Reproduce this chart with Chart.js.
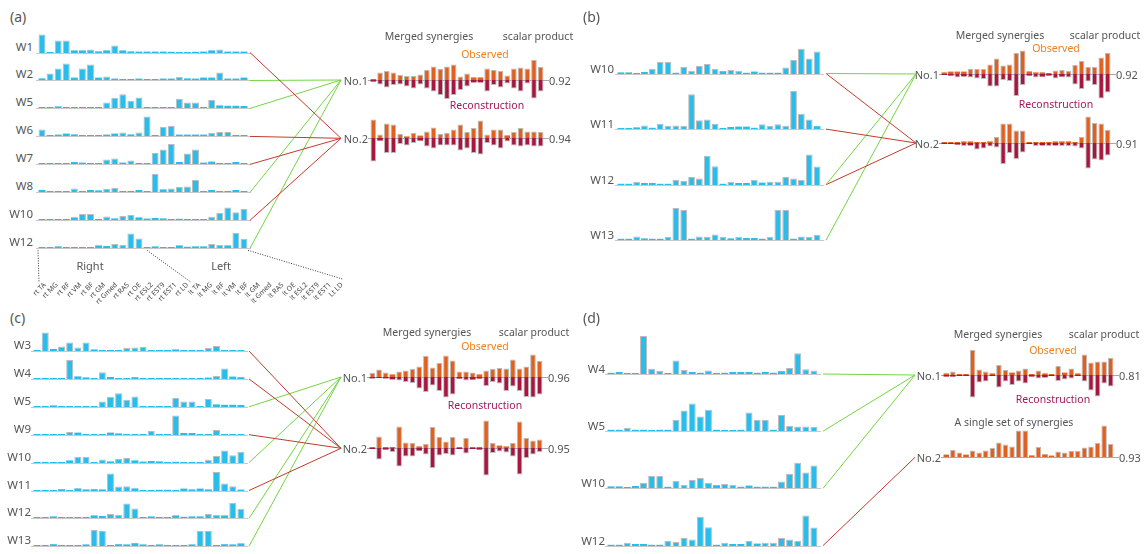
<!DOCTYPE html>
<html><head><meta charset="utf-8">
<script src="https://cdn.jsdelivr.net/npm/chart.js@4.4.1/dist/chart.umd.min.js"></script>
<style>
html,body{margin:0;padding:0}
body{width:1146px;height:554px;background:#fff;position:relative;overflow:hidden;font-family:'Noto Sans',sans-serif;color:#555}
canvas{position:absolute}
.t{position:absolute;white-space:nowrap;line-height:1}
</style></head><body>
<script>
// ---------------- DATA ----------------
const MUSCLES = ['rt TA','rt MG','rt RF','rt VM','rt BF','rt GM','rt Gmed','rt RAS','rt OE','rt ESL2','rt EST9','rt EST1','rt LD',
                 'lt TA','lt MG','lt RF','lt VM','lt BF','lt GM','lt Gmed','lt RAS','lt OE','lt ESL2','lt EST9','lt EST1','Lt LD'];

const W1  = [0.93,0.03,0.63,0.63,0.13,0.13,0.17,0.08,0.13,0.37,0.13,0.08,0.07,0.07,0.07,0.07,0.06,0.05,0.05,0.06,0.07,0.13,0.18,0.07,0.07,0.07];
const W2  = [0.08,0.33,0.57,0.83,0.12,0.57,0.78,0.12,0.17,0.07,0.03,0.02,0.07,0.03,0.03,0.07,0.07,0.15,0.08,0.07,0.12,0.12,0.38,0.07,0.07,0.12];
const W3  = [0.01,0.93,0.10,0.22,0.43,0.18,0.43,0.08,0.05,0.05,0.03,0.15,0.18,0.20,0.05,0.03,0.02,0.08,0.05,0.05,0.05,0.15,0.25,0.03,0.05,0.05];
const W4  = [0.03,0.05,0.00,0.01,0.95,0.13,0.08,0.00,0.34,0.10,0.05,0.03,0.09,0.02,0.03,0.05,0.05,0.05,0.03,0.05,0.03,0.07,0.15,0.52,0.12,0.09];
const W5  = [0.03,0.03,0.08,0.03,0.03,0.01,0.03,0.03,0.28,0.51,0.69,0.36,0.53,0.03,0.01,0.01,0.03,0.46,0.28,0.28,0.03,0.40,0.13,0.11,0.11,0.10];
const W6  = [0.33,0.03,0.07,0.12,0.08,0.03,0.03,0.05,0.07,0.12,0.17,0.08,0.17,0.97,0.03,0.45,0.50,0.07,0.07,0.07,0.07,0.15,0.20,0.20,0.03,0.03];
const W7  = [0.02,0.03,0.05,0.05,0.10,0.07,0.03,0.03,0.22,0.27,0.07,0.17,0.02,0.05,0.55,0.72,1.00,0.10,0.52,0.72,0.07,0.12,0.05,0.02,0.10,0.02];
const W8  = [0.10,0.03,0.03,0.02,0.17,0.03,0.10,0.08,0.15,0.20,0.03,0.03,0.10,0.03,0.90,0.13,0.18,0.25,0.28,0.60,0.03,0.10,0.05,0.03,0.10,0.05];
const W9  = [0.03,0.03,0.03,0.03,0.15,0.12,0.03,0.03,0.03,0.12,0.08,0.03,0.02,0.02,0.20,0.02,0.03,0.98,0.10,0.10,0.03,0.03,0.25,0.05,0.03,0.05];
const W10 = [0.04,0.04,0.01,0.05,0.13,0.30,0.30,0.03,0.18,0.08,0.20,0.25,0.13,0.07,0.10,0.08,0.03,0.06,0.03,0.03,0.03,0.16,0.35,0.63,0.39,0.56];
const W11 = [0.02,0.02,0.04,0.09,0.03,0.13,0.08,0.09,0.08,0.87,0.22,0.24,0.13,0.02,0.05,0.06,0.06,0.03,0.12,0.08,0.12,0.08,0.95,0.38,0.24,0.07];
const W12 = [0.03,0.03,0.08,0.05,0.05,0.03,0.03,0.13,0.10,0.20,0.16,0.73,0.47,0.03,0.08,0.05,0.05,0.13,0.06,0.08,0.08,0.20,0.16,0.13,0.76,0.46];
const W13 = [0.03,0.03,0.09,0.04,0.03,0.03,0.08,0.80,0.75,0.03,0.09,0.08,0.14,0.08,0.04,0.08,0.05,0.05,0.03,0.08,0.75,0.75,0.03,0.09,0.08,0.13];
const SYN = {W1,W2,W3,W4,W5,W6,W7,W8,W9,W10,W11,W12,W13};

// panel (a)
const A_ROWS  = ['W1','W2','W5','W6','W7','W8','W10','W12'];
const A_LINKS = [[2],[1],[1],[2],[2],[1],[2],[1]];
const A_OBS1 = [0.03,0.38,0.45,0.37,0.25,0.20,0.20,0.28,0.50,0.67,0.55,0.67,0.78,0.17,0.33,0.13,0.13,0.58,0.50,0.45,0.22,0.58,0.63,0.58,1.00,0.65];
const A_REC1 = [0.08,0.22,0.38,0.25,0.22,0.33,0.42,0.22,0.42,0.58,0.75,0.95,0.75,0.50,0.33,0.12,0.12,0.58,0.25,0.38,0.17,0.42,0.58,0.17,0.92,0.58];
const A_OBS2 = [0.92,0.17,0.72,0.67,0.20,0.08,0.25,0.12,0.33,0.53,0.20,0.25,0.42,0.67,0.30,0.50,0.87,0.17,0.42,0.42,0.13,0.30,0.50,0.33,0.33,0.30];
const A_REC2 = [1.17,0.13,0.75,0.75,0.30,0.37,0.25,0.13,0.42,0.53,0.37,0.37,0.37,0.63,0.53,0.75,0.83,0.25,0.37,0.53,0.17,0.37,0.42,0.37,0.42,0.42];
const A_SCORES = ['0.92','0.94'];

// panel (b)
const B_ROWS  = ['W10','W11','W12','W13'];
const B_LINKS = [[1,2],[2],[1,2],[1]];
const B_OBS1 = [0.08,0.12,0.12,0.12,0.25,0.25,0.25,0.48,0.78,0.42,0.48,1.05,1.17,0.13,0.08,0.08,0.03,0.18,0.20,0.15,0.45,0.65,0.35,0.35,0.82,1.05];
const B_REC1 = [0.05,0.08,0.17,0.12,0.17,0.22,0.25,0.63,0.63,0.30,0.35,1.10,0.55,0.08,0.17,0.13,0.08,0.23,0.13,0.17,0.52,0.75,0.38,0.55,1.22,0.92];
const B_OBS2 = [0.05,0.05,0.05,0.08,0.08,0.05,0.05,0.08,0.30,0.97,0.97,0.62,0.62,0.05,0.05,0.05,0.05,0.08,0.08,0.08,0.05,0.30,1.32,1.00,0.97,0.65];
const B_REC2 = [0.03,0.05,0.08,0.15,0.12,0.33,0.28,0.17,0.22,1.05,0.50,0.80,0.47,0.05,0.15,0.12,0.15,0.12,0.15,0.15,0.18,0.28,1.28,0.83,0.88,0.62];
const B_SCORES = ['0.92','0.91'];

// panel (c)
const C_ROWS  = ['W3','W4','W5','W9','W10','W11','W12','W13'];
const C_LINKS = [[2],[2],[1],[2],[1],[2],[1],[1]];
const C_OBS1 = [0.20,0.38,0.22,0.13,0.28,0.33,0.40,0.53,1.05,0.47,0.70,1.08,0.83,0.28,0.28,0.22,0.13,0.33,0.40,0.45,0.42,0.88,0.43,0.53,1.13,0.80];
const C_REC1 = [0.07,0.05,0.07,0.12,0.17,0.25,0.30,0.58,0.75,0.42,0.70,1.03,0.87,0.08,0.17,0.13,0.08,0.45,0.25,0.33,0.70,0.47,0.70,1.00,1.03,0.87];
const C_OBS2 = [0.03,0.58,0.03,0.03,1.08,0.28,0.25,0.08,0.20,1.05,0.55,0.32,0.55,0.03,0.50,0.05,0.03,1.37,0.25,0.12,0.08,0.25,1.33,0.50,0.37,0.42];
const C_REC2 = [0.03,0.58,0.08,0.20,0.92,0.42,0.42,0.13,0.33,1.00,0.38,0.30,0.38,0.05,0.28,0.05,0.08,1.37,0.25,0.17,0.22,0.42,1.33,0.50,0.33,0.20];
const C_SCORES = ['0.96','0.95'];

// panel (d)
const D_ROWS  = ['W4','W5','W10','W12'];
const D_LINKS = [[1],[1],[1],[2]];
const D_OBS1 = [0.08,0.17,0.05,0.05,1.25,0.28,0.17,0.08,0.50,0.25,0.12,0.22,0.33,0.05,0.22,0.08,0.05,0.45,0.12,0.33,0.08,1.03,0.62,0.68,0.67,0.85];
const D_REC1 = [0.08,0.08,0.05,0.05,1.12,0.38,0.33,0.05,0.63,0.33,0.50,0.33,0.42,0.08,0.17,0.12,0.05,0.30,0.22,0.17,0.05,0.33,0.78,1.08,0.42,0.58];
const D_SINGLE = [0.12,0.35,0.22,0.12,0.33,0.23,0.32,0.45,0.73,0.62,0.53,1.33,1.33,0.08,0.50,0.13,0.07,0.27,0.23,0.30,0.30,0.47,0.52,0.70,1.58,0.65];
const D_SCORES = ['0.81','0.93'];

// ---------------- STYLE / LAYOUT ----------------
const BLUE = '#29bdeb', ORANGE = '#df601f', CRIMSON = '#a6173f', EDGE = 'rgba(175,175,175,0.85)';
const GREEN = '#74d443', RED = '#c13a2c';
const MS = 20; // merged px per unit

const PANELS = [
  {tag:'(a)', tx:10, ty:17, rows:A_ROWS, links:A_LINKS, synX:38, synW:210, y0:52.5, dy:27.97, scale:20, labR:33, labDy:6,
   lx0:250, lx1:341, mx:370, mw:174, my:[80,138.3], obs:[A_OBS1,A_OBS2], rec:[A_REC1,A_REC2], scores:A_SCORES,
   hm:429, hs:538, hy:35.5, ox:485, oy:54, rx:487, ry:105},
  {tag:'(b)', tx:583, ty:17, rows:B_ROWS, links:B_LINKS, synX:617, synW:204, y0:73.5, dy:55.6, scale:40, labR:614, labDy:5,
   lx0:826, lx1:916, mx:941, mw:170, my:[74,143], obs:[B_OBS1,B_OBS2], rec:[B_REC1,B_REC2], scores:B_SCORES,
   hm:1000, hs:1105, hy:35, ox:1056, oy:48, rx:1056, ry:103.5},
  {tag:'(c)', tx:10, ty:318, rows:C_ROWS, links:C_LINKS, synX:33, synW:212, y0:351, dy:27.9, scale:20, labR:31, labDy:6,
   lx0:249, lx1:341, mx:369, mw:174, my:[377,448.3], obs:[C_OBS1,C_OBS2], rec:[C_REC1,C_REC2], scores:C_SCORES,
   hm:427, hs:534, hy:332, ox:485, oy:345.5, rx:485, ry:405},
  {tag:'(d)', tx:583, ty:318, rows:D_ROWS, links:D_LINKS, synX:607, synW:211, y0:374, dy:57.2, scale:40, labR:605, labDy:5,
   lx0:823, lx1:915, mx:943, mw:171, my:[375,457.3], obs:[D_OBS1,D_SINGLE], rec:[D_REC1,null], scores:D_SCORES,
   hm:998, hs:1104, hy:334, ox:1053, oy:349.5, rx:1053, ry:398.5, note:'A single set of synergies', nx:1014, ny:422}
];

// ---------------- HELPERS ----------------
Chart.defaults.font.family = "'Noto Sans', sans-serif";
Chart.defaults.animation = false;

const baselinePlugin = {
  id: 'baseline',
  beforeDatasetsDraw(chart, args, opts) {
    const {ctx, chartArea, scales} = chart;
    const y = Math.round(scales.y.getPixelForValue(0)) + 0.5;
    ctx.save();
    ctx.strokeStyle = opts.color; ctx.lineWidth = 1;
    ctx.beginPath();
    ctx.moveTo(chartArea.left - opts.extL, y);
    ctx.lineTo(chartArea.right + opts.extR, y);
    ctx.stroke();
    ctx.restore();
  }
};

function makeCanvas(l, t, w, h) {
  const c = document.createElement('canvas');
  w = Math.round(w); h = Math.round(h);
  c.width = w; c.height = h;
  c.style.left = Math.round(l) + 'px'; c.style.top = Math.round(t) + 'px';
  c.style.width = w + 'px'; c.style.height = h + 'px';
  document.body.appendChild(c);
  return c;
}

function txt(s, x, y, o = {}) {
  const d = document.createElement('div');
  d.className = 't'; d.textContent = s;
  d.style.fontSize = (o.size || 11) + 'px';
  d.style.color = o.color || '#555';
  if (o.weight) d.style.fontWeight = o.weight;
  d.style.left = x + 'px'; d.style.top = y + 'px';
  const tx = o.align === 'right' ? '-100%' : o.align === 'center' ? '-50%' : '0';
  d.style.transform = `translate(${tx},-50%)`;
  document.body.appendChild(d);
}

const baseOpts = (extra) => Object.assign({
  responsive: false, animation: false, devicePixelRatio: 1,
  events: [],
}, extra);

// thin outline only on bars tall enough to show their fill
const edgeFor = (pxPerUnit) => (ctx) => (Math.abs(ctx.raw || 0) * pxPerUnit >= 3 ? 1 : 0);

function synChart(values, x, baseY, w, scale) {
  const pad = 4;
  const ch = Math.round(1.05 * scale);
  const top = Math.round(baseY) - ch;
  const c = makeCanvas(x - pad, top, w + 2 * pad, ch + 2);
  new Chart(c, {
    type: 'bar',
    data: { labels: MUSCLES, datasets: [{ data: values, backgroundColor: BLUE, borderColor: EDGE, borderWidth: edgeFor(scale),
      minBarLength: 1, barPercentage: 0.86, categoryPercentage: 1 }] },
    options: baseOpts({
      layout: { padding: { left: pad, right: pad, top: 0, bottom: 2 } },
      plugins: { legend: { display: false }, tooltip: { enabled: false },
        baseline: { color: '#c9c9c9', extL: 2, extR: 3 } },
      scales: { x: { display: false }, y: { display: false, min: 0, max: ch / scale } }
    }),
    plugins: [baselinePlugin]
  });
}

function mergedChart(obs, rec, x, baseY, w) {
  const up = 1.7, down = 1.5, pad = 8;
  const top = Math.round(baseY) - up * MS;
  const c = makeCanvas(x - pad, top, w + 2 * pad, (up + down) * MS);
  const common = { borderColor: EDGE, borderWidth: edgeFor(MS), minBarLength: 1, barPercentage: 0.84, categoryPercentage: 1 };
  const ds = [Object.assign({ data: obs, backgroundColor: ORANGE }, common)];
  if (rec) ds.push(Object.assign({ data: rec.map(v => -v), backgroundColor: CRIMSON }, common));
  new Chart(c, {
    type: 'bar',
    data: { labels: MUSCLES, datasets: ds },
    options: baseOpts({
      layout: { padding: { left: pad, right: pad, top: 0, bottom: 0 } },
      plugins: { legend: { display: false }, tooltip: { enabled: false },
        baseline: { color: '#a9a9a9', extL: 2, extR: 5 } },
      scales: { x: { display: false, stacked: true }, y: { display: false, stacked: true, min: -down, max: up } }
    }),
    plugins: [baselinePlugin]
  });
}

// ---------------- BUILD ----------------
const lineSets = [];
function seg(x0, y0, x1, y1, color, dash) {
  lineSets.push({ data: [{ x: x0, y: y0 }, { x: x1, y: y1 }], showLine: true, borderColor: color, borderWidth: 1,
    pointRadius: 0, borderDash: dash || [], fill: false });
}

PANELS.forEach(p => {
  txt(p.tag, p.tx, p.ty, { size: 14 });
  p.rows.forEach((name, i) => {
    const by = p.y0 + i * p.dy;
    synChart(SYN[name], p.synX, by, p.synW, p.scale);
    txt(name, p.labR, by - p.labDy, { align: 'right', size: 11.5 });
    p.links[i].forEach(m => seg(p.lx0, by, p.lx1, p.my[m - 1], m === 1 ? GREEN : RED));
  });
  p.my.forEach((my, k) => {
    mergedChart(p.obs[k], p.rec[k], p.mx, my, p.mw);
    txt('No.' + (k + 1), p.mx - 2, my, { align: 'right', size: 11 });
    txt(p.scores[k], p.mx + p.mw + 5, my, { size: 11 });
  });
  txt('Merged synergies', p.hm, p.hy, { align: 'center', size: 10.5 });
  txt('scalar product', p.hs, p.hy, { align: 'center', size: 10.5 });
  txt('Observed', p.ox, p.oy, { align: 'center', size: 10.5, color: '#f0801f' });
  txt('Reconstruction', p.rx, p.ry, { align: 'center', size: 10.5, color: '#a3175c' });
  if (p.note) txt(p.note, p.nx, p.ny, { align: 'center', size: 10.5 });
});

// muscle name axis under panel (a)
const AX = { left: 39, pitch: 11.9, labelTop: 281 };
const pa = PANELS[0];
txt('Right', 90, 265, { align: 'center', size: 11 });
txt('Left', 221, 265, { align: 'center', size: 11 });
const axW = AX.left + MUSCLES.length * AX.pitch + 12;
const axC = makeCanvas(0, 250, axW, 60);
new Chart(axC, {
  type: 'bar',
  data: { labels: MUSCLES, datasets: [{ data: MUSCLES.map(() => 0) }] },
  options: baseOpts({
    layout: { padding: { left: AX.left, right: 12, top: 0, bottom: 0 } },
    plugins: { legend: { display: false }, tooltip: { enabled: false } },
    scales: {
      x: { grid: { display: false, drawTicks: false }, border: { display: false },
           ticks: { autoSkip: false, maxRotation: 45, minRotation: 45, padding: 0, color: '#444', font: { size: 7 } } },
      y: { display: false }
    }
  }),
  plugins: [{ id: 'place', afterLayout(ch) { ch.canvas.style.top = Math.round(AX.labelTop - ch.chartArea.bottom) + 'px'; } }]
});
// dotted guides: bar group boundaries -> label group boundaries
const barPitch = pa.synW / MUSCLES.length;
const synBase = pa.y0 + (pa.rows.length - 1) * pa.dy + 2;
[0, 13, 26].forEach(k => {
  const bx = pa.synX + k * barPitch + (k === 13 ? 4 : 0);
  const lx = AX.left + k * AX.pitch - (k === 26 ? 6 : 0) - (k === 13 ? 3 : 0);
  seg(bx, synBase, lx, AX.labelTop + (k === 26 ? -2 : 1), '#333', [1, 1.5]);
});

// overlay for all connecting lines
const ov = makeCanvas(0, 0, 1146, 554);
new Chart(ov, {
  type: 'scatter',
  data: { datasets: lineSets },
  options: baseOpts({
    layout: { padding: 0 },
    plugins: { legend: { display: false }, tooltip: { enabled: false } },
    scales: { x: { type: 'linear', display: false, min: 0, max: 1146 },
              y: { type: 'linear', display: false, min: 0, max: 554, reverse: true } }
  })
});
</script>
</body></html>
